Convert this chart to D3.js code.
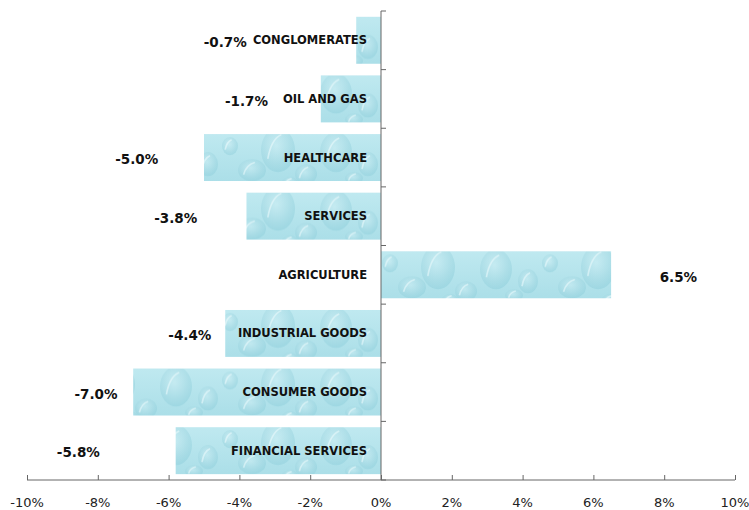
<!DOCTYPE html>
<html>
<head>
<meta charset="utf-8">
<script src="https://cdn.jsdelivr.net/npm/d3@7/dist/d3.min.js"></script>
<style>
    body { margin: 0; background: #fff; }
    .tick-label { font-family: "DejaVu Sans", sans-serif; font-size: 13px; fill: #222; }
    .cat-label { font-family: "DejaVu Sans", sans-serif; font-size: 11.5px; font-weight: bold; fill: #111; }
    .val-label { font-family: "DejaVu Sans", sans-serif; font-size: 13.5px; font-weight: bold; fill: #111; }
</style>
</head>
<body>
<div id="chart"></div>
<script>
// Sector performance data
const categories = ["CONGLOMERATES", "OIL AND GAS", "HEALTHCARE", "SERVICES",
    "AGRICULTURE", "INDUSTRIAL GOODS", "CONSUMER GOODS", "FINANCIAL SERVICES"];
const values = [-0.7, -1.7, -5.0, -3.8, 6.5, -4.4, -7.0, -5.8];
// where each value label sits, in axis units (hand placed in the original)
const labelAt = [-4.4, -3.8, -6.9, -5.8, 8.4, -5.4, -8.05, -8.55];
const xTicks = [-10, -8, -6, -4, -2, 0, 2, 4, 6, 8, 10];

const width = 749, height = 510;

const svg = d3.select("#chart").append("svg")
    .attr("width", width)
    .attr("height", height);

// water drop texture for the bars
const defs = svg.append("defs");
const base = defs.append("linearGradient").attr("id", "baseGrad")
    .attr("x1", 0).attr("y1", 0).attr("x2", 0).attr("y2", 1);
base.append("stop").attr("offset", "0%").attr("stop-color", "#bfe9f0");
base.append("stop").attr("offset", "100%").attr("stop-color", "#a6dce6");

const drop = defs.append("radialGradient").attr("id", "dropGrad")
    .attr("cx", "45%").attr("cy", "40%").attr("r", "60%");
drop.append("stop").attr("offset", "0%").attr("stop-color", "#d4f1f6");
drop.append("stop").attr("offset", "70%").attr("stop-color", "#9ed5e0");
drop.append("stop").attr("offset", "100%").attr("stop-color", "#8accd9");

const pattern = defs.append("pattern").attr("id", "water")
    .attr("patternUnits", "userSpaceOnUse")
    .attr("width", 160).attr("height", 58.6)
    .attr("y", 16.9);
pattern.append("rect").attr("width", 160).attr("height", 58.6).attr("fill", "url(#baseGrad)");
const drops = [[16, 18, 16, 20], [48, 30, 10, 12], [70, 12, 8, 9], [92, 36, 14, 11],
    [118, 16, 17, 22], [146, 40, 11, 10], [34, 44, 9, 6], [130, 48, 8, 5]];
drops.forEach(d => {
    pattern.append("ellipse").attr("cx", d[0]).attr("cy", d[1])
        .attr("rx", d[2]).attr("ry", d[3])
        .attr("fill", "url(#dropGrad)").attr("opacity", 0.45);
    pattern.append("path")
        .attr("d", `M${d[0] - d[2] * 0.6},${d[1] + d[3] * 0.4} Q${d[0] - d[2] * 0.4},${d[1] - d[3] * 0.5} ${d[0] + d[2] * 0.2},${d[1] - d[3] * 0.7}`)
        .attr("fill", "none").attr("stroke", "#eefbfd").attr("stroke-width", 1.6).attr("opacity", 0.55);
});

const x = d3.scaleLinear().domain([-10, 10]).range([27, 735]);
const y = d3.scaleBand().domain(categories).range([11, 480])
    .paddingInner(0.2).paddingOuter(0.1);

// bars
svg.selectAll(".bar")
    .data(values)
    .enter()
    .append("rect")
    .attr("class", "bar")
    .attr("x", d => x(Math.min(0, d)))
    .attr("y", (d, i) => y(categories[i]))
    .attr("width", d => Math.abs(x(d) - x(0)))
    .attr("height", y.bandwidth())
    .attr("fill", "url(#water)");

// x axis with ticks pointing up
const xAxis = svg.append("g")
    .attr("transform", "translate(0,480)")
    .call(d3.axisTop(x).tickValues(xTicks).tickSize(5).tickFormat(""));
xAxis.select(".domain").attr("stroke", "#666").attr("d", `M${x(-10)},0H${x(10)}`);
xAxis.selectAll(".tick line").attr("stroke", "#666");

svg.selectAll(".tick-label")
    .data(xTicks)
    .enter()
    .append("text")
    .attr("class", "tick-label")
    .attr("x", d => x(d))
    .attr("y", 502)
    .attr("dy", "0.35em")
    .attr("text-anchor", "middle")
    .text(d => d + "%");

// y axis at zero with ticks on category boundaries
const bounds = d3.range(categories.length + 1).map(i => y.range()[0] + i * y.step());
svg.append("line")
    .attr("x1", x(0)).attr("x2", x(0))
    .attr("y1", bounds[0]).attr("y2", bounds[bounds.length - 1])
    .attr("stroke", "#666");
svg.selectAll(".ytick")
    .data(bounds)
    .enter()
    .append("line")
    .attr("class", "ytick")
    .attr("x1", x(0)).attr("x2", x(0) + 5)
    .attr("y1", d => d).attr("y2", d => d)
    .attr("stroke", "#666");

// category labels, right aligned next to the axis
svg.selectAll(".cat-label")
    .data(categories)
    .enter()
    .append("text")
    .attr("class", "cat-label")
    .attr("x", x(0) - 14)
    .attr("y", d => y(d) + y.bandwidth() / 2)
    .attr("dy", "0.35em")
    .attr("text-anchor", "end")
    .text(d => d);

// value labels
svg.selectAll(".val-label")
    .data(values)
    .enter()
    .append("text")
    .attr("class", "val-label")
    .attr("x", (d, i) => x(labelAt[i]))
    .attr("y", (d, i) => y(categories[i]) + y.bandwidth() / 2 + 2)
    .attr("dy", "0.35em")
    .attr("text-anchor", "middle")
    .text(d => d.toFixed(1) + "%");
</script>
</body>
</html>
